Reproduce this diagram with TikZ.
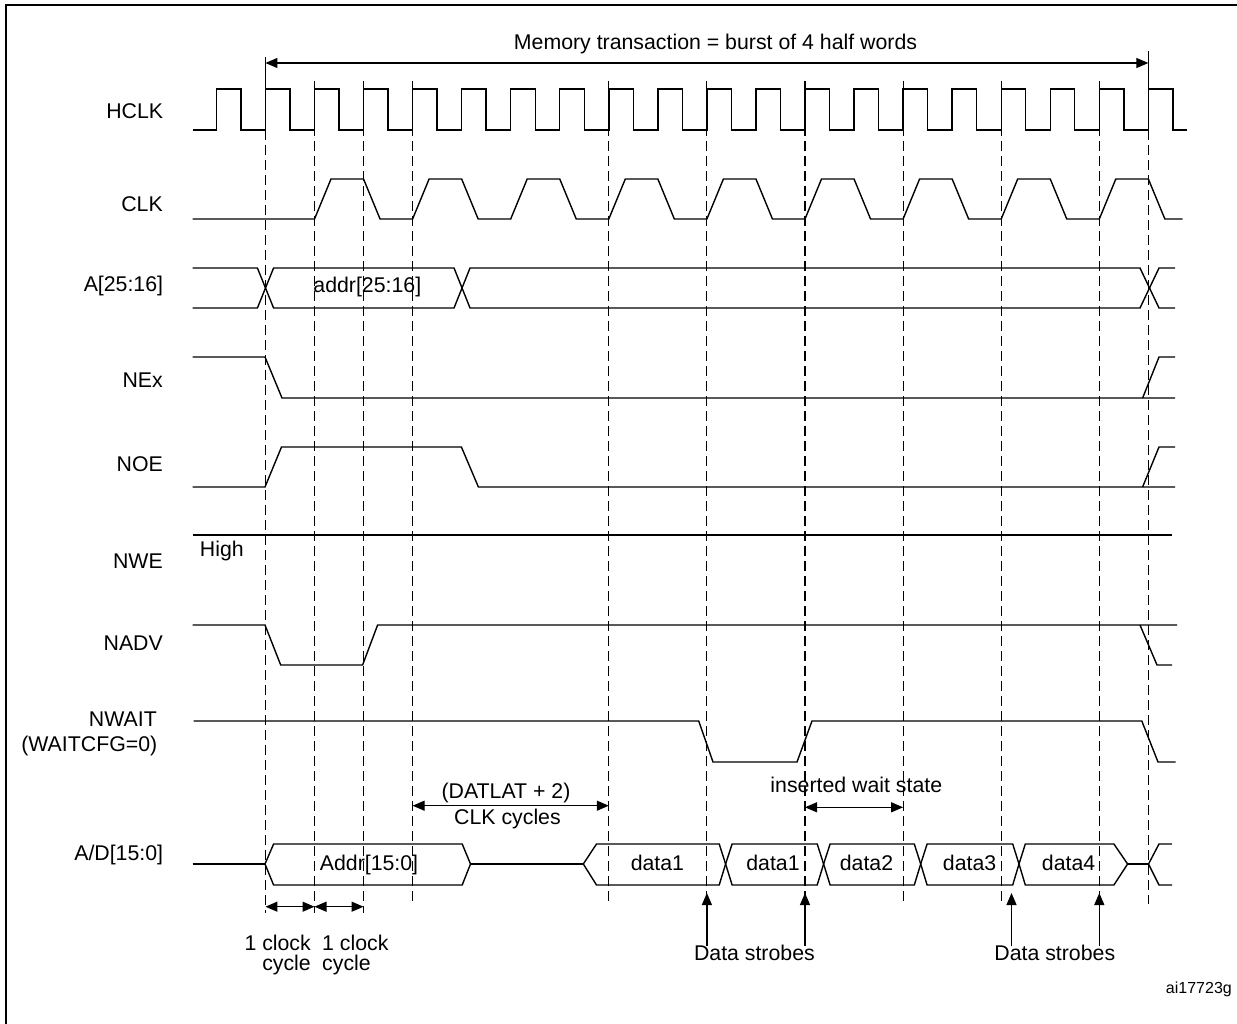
\documentclass[tikz,border=0pt]{standalone}
\usepackage{fontspec}
\setmainfont{Liberation Sans}
\usetikzlibrary{arrows.meta}
\begin{document}
\begin{tikzpicture}[x=1pt,y=-1pt,
  font=\fontsize{21.3}{25}\selectfont,
  sig/.style={line width=1.4pt, line join=miter},
  guide/.style={line width=1.1pt, dash pattern=on 10pt off 5pt},
  tip/.tip={Triangle[length=12pt,width=10pt]},
  dimarr/.style={line width=1.2pt, tip-tip},
  uparr/.style={line width=1.2pt, -tip},
  lbl/.style={anchor=base east, inner sep=0pt},
  txt/.style={anchor=base, inner sep=0pt}]
\useasboundingbox (0,0) rectangle (1237,1024);
% frame
\draw[line width=2pt] (6,1024) -- (6,5) -- (1237,5);

% time references (HCLK rising edges)
\foreach \k in {1,2,3,4,8,10,12,14,16,18,19}
  \coordinate (t\k) at ({216.4+49.05*\k},0);

% guide lines
\draw[sig] (t1 |- 0,57) -- (t1 |- 0,130);
\draw[sig] (t19 |- 0,51) -- (t19 |- 0,130);
\draw[guide] (t1 |- 0,130) -- (t1 |- 0,913);
\foreach \k in {2,3}
  \draw[guide] (t\k |- 0,81) -- (t\k |- 0,913);
\foreach \k in {4,8,10,12,14,16,18}
  \draw[guide] (t\k |- 0,81) -- (t\k |- 0,904);
\draw[guide] (t19 |- 0,130) -- (t19 |- 0,904);

% top arrow
\coordinate (memL) at (t1 |- 0,63);
\coordinate (memR) at (t19 |- 0,63);
\draw[dimarr] (memL) -- (memR);
\node[txt] (mem) at (715.5,50) {Memory transaction = burst of 4 half words};

% signal names
\node[lbl] (lHCLK) at (163.3,118.3) {HCLK};
\node[lbl] (lCLK) at (163,212) {CLK};
\node[lbl] (lA) at (163.3,292) {A[25:16]};
\node[lbl] (lNEx) at (163,387) {NEx};
\node[lbl] (lNOE) at (163,471.7) {NOE};
\node[lbl] (lNWE) at (163,568.5) {NWE};
\node[lbl] (lNADV) at (163,650) {NADV};
\node[lbl] (lNWAIT) at (157,726.5) {NWAIT};
\node[lbl] (lWCFG) at (157.4,751) {(WAITCFG=0)};
\node[lbl] (lAD) at (163.3,860) {A/D[15:0]};

% HCLK
\draw[sig] (192.6,130) foreach \k in {0,...,19}{
  -- ({216.4+49.05*\k},130) -- ++(0,-41) -- ++(24.5,0) -- ++(0,41)} -- (1186.6,130);

% CLK
\draw[sig] (192.6,219) foreach \j in {0,...,8}{
  -- ({314.5+98.1*\j},219) -- ++(16.5,-40) -- ({363.55+98.1*\j},179) -- ++(16.5,40)} -- (1182.7,219);

% A[25:16]
\draw[sig] (192.6,268) -- (257.4,268) -- (273.6,308) -- (454,308) -- (470,268) -- (1140,268) -- (1159,308) -- (1175,308);
\draw[sig] (192.6,308) -- (257.4,308) -- (273.6,268) -- (454,268) -- (470,308) -- (1140,308) -- (1159,268) -- (1175,268);
\node[txt] (addrH) at (367.3,293) {addr[25:16]};

% NEx
\draw[sig] (192.6,357) -- (265,357) -- (282,398) -- (1175,398);
\draw[sig] (1142.6,398) -- (1159,357) -- (1175,357);

% NOE
\draw[sig] (192.6,487) -- (265,487) -- (281.5,447) -- (461.4,447) -- (478.4,487) -- (1175,487);
\draw[sig] (1142.6,487) -- (1159,447) -- (1175,447);

% NWE
\draw[sig] (192.6,535) -- (1172,535);
\node[anchor=base west, inner sep=0pt] (high) at (199.7,556.7) {High};

% NADV
\draw[sig] (192.6,625) -- (265,625) -- (280.7,665) -- (362.6,665) -- (377.6,625) -- (1177,625);
\draw[sig] (1140,625) -- (1157,665) -- (1172,665);

% NWAIT
\draw[sig] (193.5,721) -- (698.7,721) -- (713,762) -- (797,762) -- (812,721) -- (1141.8,721) -- (1158,762) -- (1175.6,762);

% A/D[15:0]
\draw[sig] (192.6,864) -- (265,864);
\draw[sig] (265,864) -- (273.6,844) -- (462.2,844) -- (470.5,864) -- (462.2,885) -- (273.6,885) -- cycle;
\draw[sig] (470.5,864) -- (583.3,864);
\draw[sig] (583.3,864) -- (596.5,844) -- (719.2,844) -- (725.6,864) -- (719.2,885) -- (596.5,885) -- cycle;
\draw[sig] (725.6,864) -- (732.1,844) -- (817.2,844) -- (823.6,864) -- (817.2,885) -- (732.1,885) -- cycle;
\draw[sig] (823.6,864) -- (830.1,844) -- (914.3,844) -- (920.7,864) -- (914.3,885) -- (830.1,885) -- cycle;
\draw[sig] (920.7,864) -- (927.1,844) -- (1012.7,844) -- (1019,864) -- (1012.7,885) -- (927.1,885) -- cycle;
\draw[sig] (1019,864) -- (1025.3,844) -- (1113.9,844) -- (1127.6,864) -- (1113.9,885) -- (1025.3,885) -- cycle;
\draw[sig] (1127.6,864) -- (1148.5,864);
\draw[sig] (1172,844) -- (1159,844) -- (1148.5,864) -- (1159,885) -- (1172,885);
\node[txt] (addrL) at (369,870) {Addr[15:0]};
\node[txt] (d1a) at (657.4,870) {data1};
\node[txt] (d1b) at (773,870) {data1};
\node[txt] (d2) at (866.5,870) {data2};
\node[txt] (d3) at (969.6,870) {data3};
\node[txt] (d4) at (1068.6,870) {data4};

% DATLAT arrow
\draw[dimarr] (t4 |- 0,805.7) -- (t8 |- 0,805.7);
\node[txt] (datlat) at (506,798) {(DATLAT + 2)};
\node[txt] (clkcyc) at (507.5,824) {CLK cycles};

% inserted wait state
\draw[dimarr] (t12 |- 0,807.3) -- (t14 |- 0,807.3);
\node[txt] (iws) at (856.3,792.5) {inserted wait state};

% 1 clock cycle arrows
\draw[dimarr] (t1 |- 0,906.7) -- (t2 |- 0,906.7);
\draw[dimarr] (t2 |- 0,906.7) -- (t3 |- 0,906.7);
\node[lbl] (c1a) at (311,950) {1 clock};
\node[lbl] (c1b) at (311,970.5) {cycle};
\node[anchor=base west, inner sep=0pt] (c2a) at (322,950) {1 clock};
\node[anchor=base west, inner sep=0pt] (c2b) at (322,970.5) {cycle};

% data strobes
\node[txt] (ds1) at (754.4,960) {Data strobes};
\node[txt] (ds2) at (1054.8,960) {Data strobes};
\draw[uparr] (t10 |- 0,946) -- (t10 |- 0,893);
\draw[uparr] (t12 |- 0,946) -- (t12 |- 0,893);
\draw[uparr] (1011.5,946) -- (1011.5,893);
\draw[uparr] (t18 |- 0,946) -- (t18 |- 0,893);

\node[anchor=base east, inner sep=0pt, font=\fontsize{16}{19}\selectfont] (ref) at (1232,993.3) {ai17723g};
\end{tikzpicture}
\end{document}
